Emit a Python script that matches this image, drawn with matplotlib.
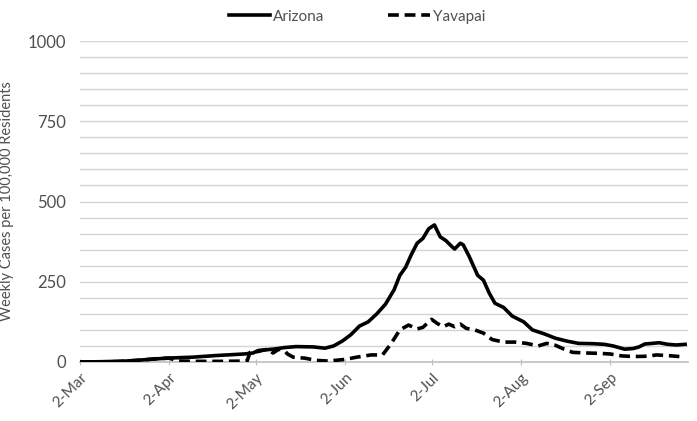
import matplotlib
matplotlib.use("Agg")
import matplotlib.pyplot as plt
import matplotlib.dates as mdates
import pandas as pd

az_dates = ["03-02","03-10","03-18","03-26","04-01","04-10","04-18","04-28","05-01","05-03",
            "05-08","05-12","05-16","05-22","05-26","05-29","06-01","06-04","06-07","06-10",
            "06-13","06-16","06-19","06-21","06-23","06-25","06-27","06-29","07-01","07-03",
            "07-05","07-07","07-09","07-10","07-12","07-13","07-15","07-18","07-20","07-22",
            "07-24","07-27","07-30","08-03","08-06","08-10","08-14","08-18","08-22","08-27",
            "08-31","09-03","09-07","09-10","09-12","09-14","09-19","09-22","09-25","09-28"]
az_values = [0,1,3,8,12,15,20,25,28,36,
             40,45,48,47,43,50,65,85,112,125,
             150,180,225,270,295,335,370,385,415,427,
             390,378,360,352,370,365,330,270,255,215,
             183,170,143,125,100,88,74,65,58,57,
             55,50,40,42,47,56,60,55,53,55]

yv_dates = ["03-02","03-15","03-22","03-28","04-02","04-05","04-12","04-20","04-29","04-30",
            "05-03","05-06","05-08","05-10","05-12","05-13","05-15","05-19","05-23","05-27",
            "06-02","06-06","06-11","06-15","06-18","06-21","06-24","06-27","06-29","07-02",
            "07-04","07-06","07-08","07-10","07-12","07-14","07-17","07-20","07-23","07-27",
            "07-31","08-04","08-08","08-11","08-14","08-17","08-20","08-25","08-29","09-02",
            "09-06","09-10","09-15","09-18","09-22","09-26"]
yv_values = [0,1,5,10,12,3,2,2,3,30,
             33,40,28,40,35,25,15,12,5,3,
             8,15,22,22,58,100,115,103,108,133,
             120,110,118,110,118,105,100,90,70,62,
             62,58,50,58,52,40,30,28,27,25,
             19,17,18,22,20,17]

tick_dates = ["03-02","04-02","05-02","06-02","07-02","08-02","09-02"]
tick_labels = ["2-Mar","2-Apr","2-May","2-Jun","2-Jul","2-Aug","2-Sep"]
y_ticks = [0, 250, 500, 750, 1000]

def to_dt(lst):
    return pd.to_datetime(["2020-" + d for d in lst])

plt.rcParams['font.family'] = ['Lato', 'DejaVu Sans']
fig = plt.figure(figsize=(6.97, 4.21), dpi=100)
ax = fig.add_axes([80/697, 1-362/421, (688-80)/697, (362-41)/421])

grid_c = '#d4d4d4'
for v in range(50, 1001, 50):
    ax.axhline(v, color=grid_c, lw=1.0, zorder=0)

ax.plot(to_dt(az_dates), az_values, color='black', lw=2.6, label='Arizona',
        solid_joinstyle='round', zorder=3)
ax.plot(to_dt(yv_dates), yv_values, color='black', lw=2.6, ls=(0, (3, 1.6)),
        label='Yavapai', zorder=3)

ax.set_ylim(0, 1000)
ax.set_xlim(pd.Timestamp("2020-03-02"), pd.Timestamp("2020-09-29"))
ax.set_yticks(y_ticks)
ax.set_yticklabels([str(v) for v in y_ticks])
ax.set_xticks(to_dt(tick_dates))
ax.set_xticklabels(tick_labels, rotation=45, ha='right', rotation_mode='anchor')

for s in ['top', 'right', 'left']:
    ax.spines[s].set_visible(False)
ax.spines['bottom'].set_color('#bfbfbf')
ax.spines['bottom'].set_linewidth(1.2)
ax.tick_params(axis='y', length=0, labelsize=12, labelcolor='#505050', pad=10)
ax.tick_params(axis='x', length=4, color='#bfbfbf', labelsize=11, labelcolor='#505050',
               direction='inout', pad=4)

ax.set_ylabel('Weekly Cases per 100,000 Residents', fontsize=10.5, color='#505050', labelpad=10)

fig.legend(loc='upper center', bbox_to_anchor=(0.512, 1.01), ncol=2, frameon=False,
           fontsize=11, handlelength=2.7, columnspacing=4.2, handletextpad=0.2,
           labelcolor='#505050')

fig.savefig('out.png', dpi=100, facecolor='white')
